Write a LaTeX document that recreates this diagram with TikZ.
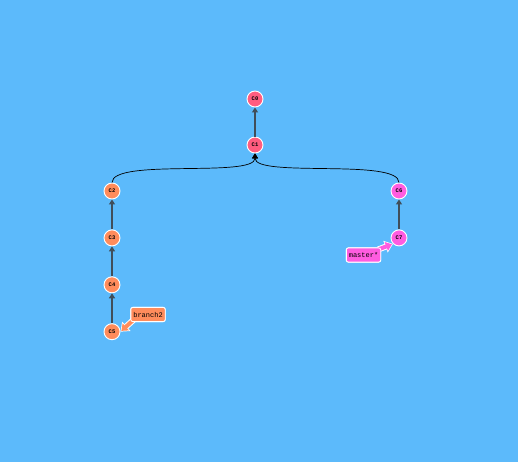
\documentclass[tikz,border=0pt]{standalone}
\usepackage{fontspec}
\setmonofont{Liberation Mono}
\usetikzlibrary{arrows.meta,positioning}
\definecolor{bgblue}{RGB}{92,186,251}
\definecolor{rootred}{RGB}{255,92,127}
\definecolor{sideorange}{RGB}{255,140,92}
\definecolor{mainpink}{RGB}{255,92,224}
\definecolor{edgegrey}{RGB}{64,78,90}

\begin{document}
\begin{tikzpicture}[
x=1pt, y=-1pt,
commit/.style={circle, draw=white, line width=0.9pt, minimum size=16pt, inner sep=0pt, font=\ttfamily\bfseries\fontsize{5.5}{5.5}\selectfont},
reflabel/.style={rectangle, rounded corners=2pt, draw=white, line width=0.9pt, inner xsep=2.5pt, inner ysep=4.5pt, font=\ttfamily\fontsize{7}{7}\selectfont},
parentedge/.style={edgegrey, line width=1.4pt, arrows={-{Triangle[length=5pt,width=6pt]}}},
mergeedge/.style={black, line width=0.7pt, arrows={-{Triangle[length=5pt,width=6pt]}}},
refoutline/.style={white, line width=6pt, arrows={-{Triangle[length=8pt,width=12pt]}}},
refarrow/.style={line width=4pt, shorten >=1.2pt, arrows={-{Triangle[length=6pt,width=9pt]}}}]
% Background
\fill[bgblue] (0,0) rectangle (518,462);
\useasboundingbox (0,0) rectangle (518,462);
% Nodes
\node[commit, fill=rootred] (c0) at (255,99) {C0};
\node[commit, fill=rootred] (c1) at (255,145) {C1};
\node[commit, fill=sideorange] (c2) at (112,191) {C2};
\node[commit, fill=sideorange] (c3) [below=30pt of c2] {C3};
\node[commit, fill=sideorange] (c4) [below=30pt of c3] {C4};
\node[commit, fill=sideorange] (c5) [below=30pt of c4] {C5};
\node[commit, fill=mainpink] (c6) at (399,191) {C6};
\node[commit, fill=mainpink] (c7) [below=30pt of c6] {C7};
\node[reflabel, fill=sideorange] (branch2) at (148,314.5) {branch2};
\node[reflabel, fill=mainpink] (master) at (363.5,255) {master*};
% Lines
\draw[parentedge] (c1) -- (c0);
\draw[parentedge] (c3) -- (c2);
\draw[parentedge] (c4) -- (c3);
\draw[parentedge] (c5) -- (c4);
\draw[parentedge] (c7) -- (c6);
\draw[mergeedge] (c2.north) .. controls (112,158) and (255,178) .. (c1.south);
\draw[mergeedge] (c6.north) .. controls (399,158) and (255,178) .. (c1.south);
% Ref arrows
\draw[refoutline] ([shift={(3,-2)}]branch2.south west) -- (c5.east);
\draw[refarrow, sideorange] ([shift={(3,-2)}]branch2.south west) -- (c5.east);
\draw[refoutline] ([shift={(-3,2)}]master.north east) -- (c7.south west);
\draw[refarrow, mainpink] ([shift={(-3,2)}]master.north east) -- (c7.south west);
% Label boxes on top
\node[reflabel, fill=sideorange] at (branch2) {branch2};
\node[reflabel, fill=mainpink] at (master) {master*};
\end{tikzpicture}
\end{document}
